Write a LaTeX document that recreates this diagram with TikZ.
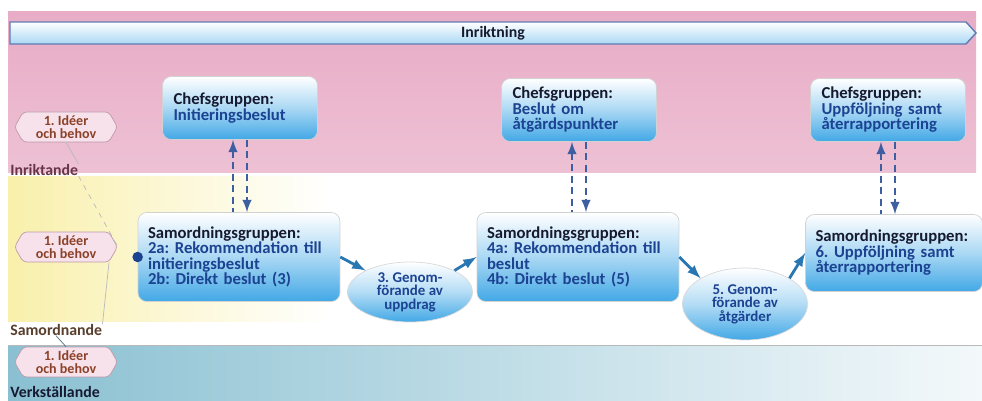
\documentclass[tikz,border=0pt]{standalone}
\usepackage{fontspec}
\setmainfont{Carlito}
\frenchspacing
\usetikzlibrary{shapes.geometric,shapes.symbols,positioning}
\definecolor{rosa}{RGB}{232,172,198}
\definecolor{gul}{RGB}{247,236,150}
\definecolor{turkos}{RGB}{138,192,210}
\definecolor{ljusbla}{RGB}{66,168,230}
\definecolor{morkbla}{RGB}{28,66,146}
\definecolor{rubrik}{RGB}{22,26,48}
\definecolor{brun}{RGB}{140,66,40}
\definecolor{inrfarg}{RGB}{104,52,72}
\definecolor{samfarg}{RGB}{88,62,44}
\definecolor{flodebla}{RGB}{40,118,178}

\begin{document}
\begin{tikzpicture}[x=0.02cm,y=-0.02cm,>=latex,
	ruta/.style={draw=gray!35, rounded corners=5pt, top color=white, bottom color=ljusbla, middle color=white!55!ljusbla, align=left, text=morkbla, font=\bfseries\fontsize{9.5}{8.8}\selectfont},
	chef/.style={ruta, text width=2.66cm, inner xsep=0.22cm, minimum height=1.26cm},
	samord/.style={ruta, text width=3.64cm, inner xsep=0.2cm, minimum height=1.78cm},
	genom/.style={ellipse, draw=gray!30, top color=white, bottom color=ljusbla, middle color=white!60!ljusbla, minimum width=2.5cm, inner sep=0pt, align=center, text=morkbla, font=\bfseries\fontsize{8.5}{7.7}\selectfont},
	idee/.style={signal, signal to=west and east, signal pointer angle=120, rounded corners=2pt, draw=rosa!60!gray, fill=rosa!35!white, minimum width=2.06cm, minimum height=0.6cm, inner sep=1pt, align=center, text=brun, font=\bfseries\fontsize{8}{7.5}\selectfont},
	niva/.style={anchor=west, inner sep=0pt, font=\bfseries\fontsize{9}{9}\selectfont},
	pil/.style={dash pattern=on 4pt off 2.5pt, line width=1.4pt, draw=morkbla!85},
	flode/.style={->, line width=1.6pt, draw=flodebla},
	tunn/.style={draw=gray!55, thin}]
	\useasboundingbox (0,0) rectangle (982,401);
	\clip (0,0) rectangle (982,401);
	% bakgrund
	\fill[white] (0,0) rectangle (982,401);
	\shade[top color=rosa, bottom color=rosa!75!white] (8,12) rectangle (976,173);
	\shade[left color=gul!80, right color=white] (8,177) rectangle (330,322);
	\shade[left color=turkos, right color=turkos!10] (8,345) rectangle (982,401);
	\draw[tunn] (8,345) -- (982,345);
	% inriktningspilen
	\draw[draw=morkbla!70, line width=0.8pt, top color=white, bottom color=ljusbla!45] (10,22) -- (966,22) -- (976,33) -- (966,44) -- (10,44) -- cycle;
	\node[text=rubrik, font=\bfseries\fontsize{9}{9}\selectfont] (inr) at (493,33) {Inriktning};
	% nivaer
	\node[niva, text=inrfarg] (lblInr) at (10,170) {Inriktande};
	\node[niva, text=samfarg] (lblSam) at (10,330) {Samordnande};
	\node[niva, text=rubrik] (lblVerk) at (10,392) {Verkställande};
	\node[idee] (hexA) at (66,127) {1. Idéer\\och behov};
	\node[idee] (hexB) at (66,247) {1. Idéer\\och behov};
	\node[idee] (hexC) at (66,362) {1. Idéer\\och behov};
	\draw[tunn] (hexA.south) -- (lblInr.north east);
	\draw[tunn, dashed] (lblInr.south east) -- (hexB.east);
	\draw[tunn] (hexB.south east) -- (lblSam.north east);
	\draw[tunn, draw=turkos!60!black] (lblSam.south) -- (hexC.north);
	% rutor
	\node[chef] (chefA) at (240,108) {\textcolor{rubrik}{Chefsgruppen:}\\Initieringsbeslut};
	\node[chef] (chefB) at (579,110) {\textcolor{rubrik}{Chefsgruppen:}\\Beslut om\\åtgärdspunkter};
	\node[chef] (chefC) at (888,110) {\textcolor{rubrik}{Chefsgruppen:}\\Uppföljning samt\\återrapportering};
	\node[samord] (samA) at (239,257) {\textcolor{rubrik}{Samordningsgruppen:}\\2a: Rekommendation till\\initieringsbeslut\\2b: Direkt beslut (3)};
	\node[samord] (samB) at (578,257) {\textcolor{rubrik}{Samordningsgruppen:}\\4a: Rekommendation till\\beslut\\4b: Direkt beslut (5)};
	\node[samord, text width=3.14cm, minimum height=1.54cm] (samC) at (894,253) {\textcolor{rubrik}{Samordningsgruppen:}\\6. Uppföljning samt\\återrapportering};
	\node[genom, minimum height=1.2cm] (ellA) at (410,292) {3. Genom-\\förande av\\uppdrag};
	\node[genom, minimum height=1.44cm] (ellB) at (745,304) {5. Genom-\\förande av\\åtgärder};
	\fill[morkbla] (samA.west) circle (3pt);
	% pilar
	\foreach \c/\s in {chefA/samA,chefB/samB,chefC/samC}{
		\draw[pil,<-] ([xshift=-0.14cm]\c.south) -- ([xshift=-0.14cm]\c.south |- \s.north);
		\draw[pil,->] ([xshift=0.14cm]\c.south) -- ([xshift=0.14cm]\c.south |- \s.north);
	}
	\draw[flode] (samA.east) -- (ellA.north west);
	\draw[flode] (ellA.north east) -- (samB.west);
	\draw[flode] (samB.east) -- (ellB.north west);
	\draw[flode] (ellB.north east) -- (samC.west);
\end{tikzpicture}
\end{document}
